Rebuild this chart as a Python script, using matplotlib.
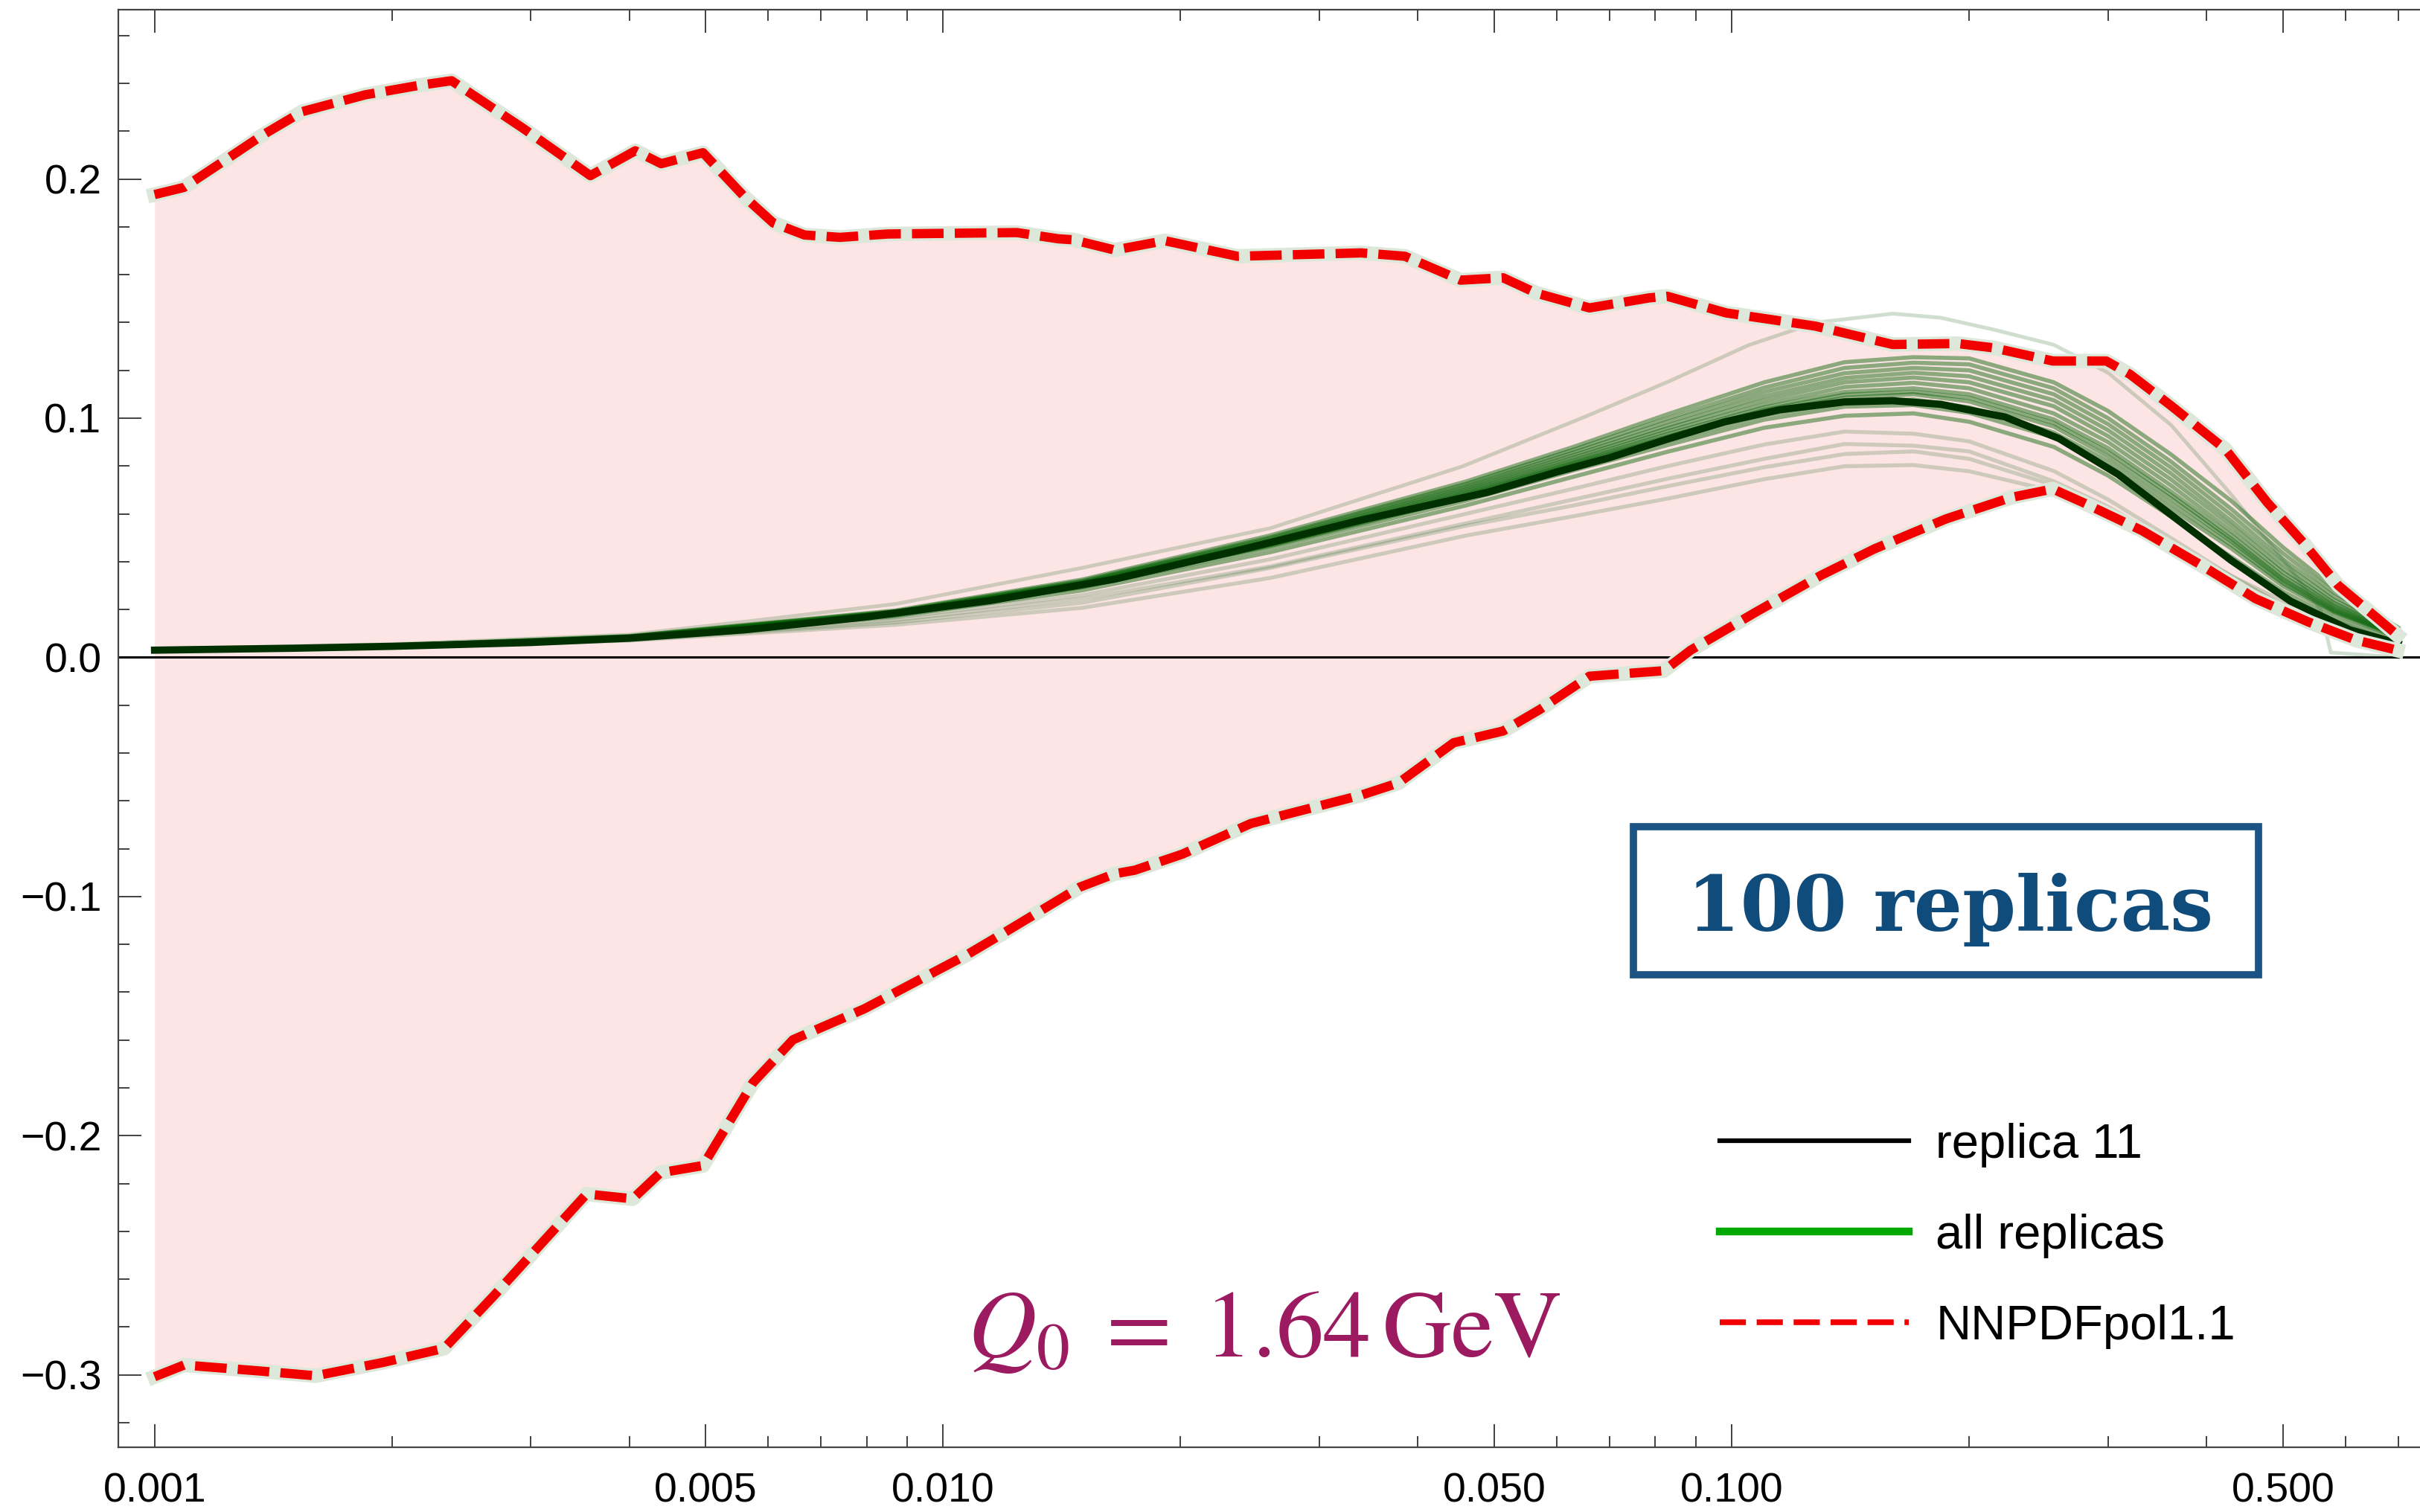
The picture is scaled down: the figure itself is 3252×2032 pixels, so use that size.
import numpy as np
import matplotlib
matplotlib.use("Agg")
import matplotlib.pyplot as plt
from matplotlib.lines import Line2D
from matplotlib.patches import Rectangle

plt.rcParams['font.family'] = ['Liberation Sans', 'DejaVu Sans']
plt.rcParams['mathtext.fontset'] = 'stix'

# NNPDFpol1.1 band edges
x_up = [0.001, 0.00109, 0.00121, 0.00137, 0.00154, 0.00185, 0.00216, 0.00238, 0.00293,
        0.00357, 0.00407, 0.00439, 0.00496, 0.0056, 0.00609, 0.00667, 0.0074, 0.0085, 0.0124,
        0.0140, 0.0146, 0.0165, 0.0191, 0.0236, 0.0339, 0.0385, 0.0453, 0.0513, 0.0565,
        0.066, 0.0786, 0.0828, 0.0984, 0.1276, 0.160, 0.1935, 0.2148, 0.2553, 0.2985,
        0.32, 0.361, 0.4226, 0.4775, 0.5298, 0.5875, 0.6518, 0.6983]
y_up = [0.1935, 0.1965, 0.2064, 0.2183, 0.2282, 0.2352, 0.2391, 0.2411, 0.2213,
        0.2014, 0.2118, 0.2064, 0.211, 0.1925, 0.1816, 0.1766, 0.1756, 0.177, 0.1776,
        0.175, 0.1746, 0.1703, 0.1742, 0.1677, 0.1691, 0.1677, 0.1577, 0.1587, 0.1523,
        0.1461, 0.1503, 0.151, 0.144, 0.1385, 0.1308, 0.1312, 0.1294, 0.1239, 0.1239,
        0.1183, 0.1051, 0.087, 0.0648, 0.0482, 0.0301, 0.0176, 0.0093]

x_lo = [0.001, 0.00109, 0.00136, 0.0016, 0.00195, 0.00233, 0.00269, 0.00353, 0.00404,
        0.00438, 0.00496, 0.00574, 0.00645, 0.00794, 0.01074, 0.0119, 0.0149, 0.0165,
        0.0175, 0.0201, 0.02455, 0.0339, 0.0378, 0.0444, 0.0513, 0.0571, 0.066, 0.082,
        0.0887, 0.1074, 0.1298, 0.1518, 0.187, 0.2264, 0.2553, 0.2786, 0.3313, 0.394,
        0.4617, 0.5385, 0.6188, 0.698]
y_lo = [-0.3008, -0.2959, -0.2984, -0.3004, -0.2948, -0.2889, -0.2671, -0.2244, -0.2264,
        -0.2155, -0.2125, -0.1778, -0.1599, -0.147, -0.1242, -0.1155, -0.0961, -0.0905,
        -0.0890, -0.0823, -0.0695, -0.0576, -0.0525, -0.0357, -0.0308, -0.0218, -0.0079, -0.0056,
        0.003, 0.019, 0.0343, 0.0454, 0.0579, 0.0669, 0.0704, 0.0648, 0.053, 0.0385,
        0.0245, 0.0148, 0.0072, 0.003]

# replica 11
x_r11 = [0.001, 0.0015, 0.002, 0.003, 0.004, 0.0056, 0.008, 0.0115, 0.0165, 0.0236, 0.034,
         0.049, 0.06, 0.07, 0.083, 0.098, 0.115, 0.139, 0.16, 0.184, 0.222, 0.26, 0.309,
         0.361, 0.43, 0.511, 0.608, 0.70]
y_r11 = [0.003, 0.0038, 0.0046, 0.0062, 0.008, 0.0115, 0.0169, 0.0238, 0.0327, 0.0446, 0.0575,
         0.0690, 0.0775, 0.0835, 0.0913, 0.0985, 0.1035, 0.1068, 0.1073, 0.1058, 0.1005, 0.0915,
         0.0765, 0.0595, 0.0405, 0.0235, 0.0115, 0.0058]

# other replicas (a readable subset of the 100)
x_rep = [0.001, 0.002, 0.004, 0.0087, 0.015, 0.026, 0.046, 0.063, 0.083, 0.11, 0.139,
         0.17, 0.2, 0.256, 0.3, 0.36, 0.43, 0.5, 0.58, 0.70]
replicas = [
    [0.0031, 0.0050, 0.0089, 0.0196, 0.0325, 0.051, 0.0735, 0.088, 0.1017, 0.115, 0.1234, 0.1255, 0.125, 0.115, 0.103, 0.085, 0.0654, 0.046, 0.029, 0.0125],
    [0.0031, 0.0049, 0.0088, 0.0193, 0.032, 0.0502, 0.0725, 0.0868, 0.1, 0.1128, 0.121, 0.1232, 0.1225, 0.1125, 0.1, 0.082, 0.062, 0.0435, 0.0272, 0.0118],
    [0.0031, 0.0049, 0.0087, 0.0191, 0.0316, 0.0496, 0.0716, 0.0857, 0.0985, 0.111, 0.1188, 0.121, 0.12, 0.11, 0.0975, 0.0795, 0.0595, 0.041, 0.0255, 0.011],
    [0.003, 0.0048, 0.0086, 0.0189, 0.0312, 0.049, 0.0708, 0.0846, 0.097, 0.1092, 0.1168, 0.119, 0.1175, 0.1075, 0.095, 0.077, 0.057, 0.039, 0.024, 0.0105],
    [0.003, 0.0048, 0.0085, 0.0187, 0.0309, 0.0485, 0.0700, 0.0836, 0.0958, 0.1075, 0.115, 0.117, 0.115, 0.105, 0.0925, 0.0745, 0.055, 0.037, 0.0228, 0.010],
    [0.003, 0.0047, 0.0084, 0.0185, 0.0306, 0.048, 0.0693, 0.0826, 0.0946, 0.1058, 0.113, 0.1148, 0.1125, 0.102, 0.09, 0.072, 0.0528, 0.0355, 0.0218, 0.0097],
    [0.003, 0.0047, 0.0083, 0.0184, 0.0304, 0.0477, 0.0686, 0.0818, 0.0935, 0.1045, 0.111, 0.1125, 0.110, 0.0995, 0.0875, 0.0695, 0.051, 0.034, 0.021, 0.0094],
    [0.003, 0.0046, 0.0082, 0.0183, 0.0303, 0.0474, 0.068, 0.0812, 0.0925, 0.1035, 0.1098, 0.111, 0.1085, 0.098, 0.0858, 0.068, 0.0495, 0.0328, 0.0202, 0.0091],
    [0.003, 0.0046, 0.0081, 0.0181, 0.0301, 0.047, 0.0675, 0.0807, 0.0918, 0.1027, 0.1085, 0.110, 0.107, 0.0965, 0.084, 0.0665, 0.0485, 0.032, 0.0196, 0.0088],
    [0.003, 0.0046, 0.008, 0.0179, 0.0298, 0.0466, 0.0668, 0.0798, 0.0905, 0.1012, 0.1065, 0.1078, 0.1045, 0.094, 0.082, 0.0645, 0.047, 0.031, 0.019, 0.0085],
    [0.003, 0.0045, 0.0079, 0.0176, 0.0293, 0.0458, 0.0655, 0.0782, 0.0888, 0.0994, 0.1048, 0.1055, 0.1022, 0.092, 0.08, 0.0625, 0.0455, 0.0298, 0.0183, 0.0082],
    [0.003, 0.0045, 0.0078, 0.0172, 0.028, 0.044, 0.0635, 0.0755, 0.086, 0.096, 0.101, 0.102, 0.0985, 0.088, 0.076, 0.059, 0.042, 0.0275, 0.0165, 0.0068],
    [0.003, 0.0044, 0.0076, 0.0166, 0.026, 0.041, 0.060, 0.0705, 0.080, 0.089, 0.0944, 0.0935, 0.0903, 0.0779, 0.066, 0.050, 0.034, 0.0235, 0.0155, 0.006],
    [0.003, 0.0043, 0.0074, 0.0155, 0.0245, 0.038, 0.056, 0.066, 0.0747, 0.083, 0.0892, 0.0885, 0.0861, 0.0736, 0.063, 0.048, 0.034, 0.0215, 0.0125, 0.0055],
    [0.003, 0.0042, 0.0072, 0.0146, 0.0228, 0.0374, 0.055, 0.0635, 0.0716, 0.0795, 0.085, 0.0861, 0.083, 0.072, 0.061, 0.047, 0.031, 0.0195, 0.0115, 0.0052],
    [0.003, 0.0041, 0.007, 0.0136, 0.0207, 0.0332, 0.0509, 0.059, 0.0664, 0.0745, 0.0799, 0.0804, 0.0778, 0.0695, 0.0595, 0.046, 0.0291, 0.019, 0.011, 0.0052],
]
# the one replica that runs above the others
x_out = [0.001, 0.002, 0.004, 0.0056, 0.0087, 0.015, 0.026, 0.0456, 0.0645, 0.083, 0.105,
         0.128, 0.16, 0.184, 0.215, 0.256, 0.30, 0.361, 0.43, 0.511, 0.558, 0.575, 0.70]
y_out = [0.0035, 0.0055, 0.0095, 0.0149, 0.0223, 0.0374, 0.054, 0.0799, 0.1, 0.1152, 0.1305,
         0.140, 0.1437, 0.142, 0.137, 0.1307, 0.119, 0.097, 0.068, 0.037, 0.02, 0.002, 0.0]

xticks = [0.001, 0.005, 0.010, 0.050, 0.100, 0.500]
xtick_labels = ['0.001', '0.005', '0.010', '0.050', '0.100', '0.500']
yticks = [-0.3, -0.2, -0.1, 0.0, 0.1, 0.2]
ytick_labels = ['\u22120.3', '\u22120.2', '\u22120.1', '0.0', '0.1', '0.2']

fig = plt.figure(figsize=(32.52, 20.32), dpi=100)
ax = fig.add_axes([0.0488, 0.0428, 0.9512, 0.9508])

# band
xb = np.array(x_up)
ax.fill_between(x_up, y_up, np.interp(np.log(xb), np.log(x_lo), y_lo),
                color='#fde5e5', lw=0, zorder=1)

# replicas: the bulk is denser (darker) than the stray ones
for i, r in enumerate(replicas):
    if i < 12:
        ax.plot(x_rep, r, color='#006000', alpha=0.45, lw=4.0, zorder=3,
                solid_joinstyle='round')
    else:
        ax.plot(x_rep, r, color='#2a6a2a', alpha=0.22, lw=3.8, zorder=3,
                solid_joinstyle='round')
ax.plot(x_out, y_out, color='#2a6a2a', alpha=0.22, lw=3.6, zorder=3)
ax.plot(x_r11, y_r11, color='#003000', lw=7, zorder=4, solid_joinstyle='round')

ax.axhline(0, color='black', lw=2.2, zorder=2)

# NNPDFpol1.1 edges
for xs, ys in [(x_up, y_up), (x_lo, y_lo)]:
    ax.plot(xs, ys, color='#dde8da', lw=14, solid_joinstyle='round', zorder=5)
    ax.plot(xs, ys, color='#f20000', lw=9, dashes=(3.4, 1.2), zorder=6)

ax.set_xscale('log')
ax.set_xlim(0.000899, 0.746)
ax.set_ylim(-0.3303, 0.2708)

ax.set_xticks(xticks)
ax.set_xticklabels(xtick_labels)
minor = [m * 10.0 ** e for e in (-3, -2, -1) for m in range(2, 10) if m != 5]
ax.set_xticks([v for v in minor if v < 0.75], minor=True)
ax.set_yticks(yticks)
ax.set_yticklabels(ytick_labels)
ax.set_yticks(np.arange(-0.32, 0.27, 0.02), minor=True)

ax.tick_params(which='both', direction='in', top=True, right=False, width=1.3, color='#333333')
ax.tick_params(which='major', length=22)
ax.tick_params(which='minor', length=11)
ax.tick_params(axis='x', labelsize=40, pad=24)
ax.tick_params(axis='y', labelsize=40, pad=16)
ax.spines['right'].set_visible(False)
for s in ['left', 'bottom', 'top']:
    ax.spines[s].set_color('#444444')
    ax.spines[s].set_linewidth(1.6)

handles = [Line2D([], [], color='black', lw=4.5),
           Line2D([], [], color='#00a800', lw=7.5),
           Line2D([], [], color='#f20000', lw=5.5, dashes=(4.6, 1.9))]
ax.legend(handles, ['replica 11', 'all replicas', 'NNPDFpol1.1'],
          loc='center left', bbox_to_anchor=(0.7106, 0.1825), bbox_transform=fig.transFigure,
          frameon=False, fontsize=47, handlelength=3.9, handletextpad=0.55,
          labelspacing=0.95, borderpad=0, borderaxespad=0)

# "100 replicas" stamp
fig.patches.append(Rectangle((0.675, 0.3553), 0.2583, 0.0979, transform=fig.transFigure,
                             fill=False, ec='#1b5384', lw=7, zorder=10))
fig.text(0.8057, 0.3844, '100 replicas', ha='center', va='baseline', fontsize=74,
         family='DejaVu Serif', weight='bold', color='#0f4c7c')

fig.text(0.3999, 0.1029, r'$Q_0\;=\;1.64\,\mathrm{GeV}$', ha='left', va='baseline',
         fontsize=92, color='#9c1a5f')

fig.savefig('out.png', dpi=100)
